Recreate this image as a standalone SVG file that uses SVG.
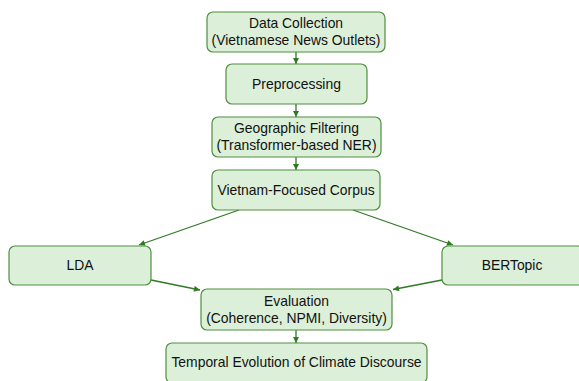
<svg xmlns="http://www.w3.org/2000/svg" width="579" height="381" viewBox="0 0 579 381">
<style>
.box{fill:#dcefd8;stroke:#4f8f3f;stroke-width:1.2}
.lbl{font-family:"Liberation Sans",Arial,Helvetica,sans-serif;font-size:13.9px;fill:#111;text-anchor:middle;dominant-baseline:central}
.edge{stroke:#2f7a24;stroke-width:1.3;fill:none;marker-end:url(#ah)}
</style>
<defs>
<marker id="ah" viewBox="0 0 10 10" refX="10" refY="5" markerWidth="7" markerHeight="6" markerUnits="userSpaceOnUse" orient="auto">
<path d="M0,0 L10,5 L0,10 z" fill="#2f7a24"/>
</marker>
</defs>
<rect width="579" height="381" fill="#ffffff"/>
<g id="connectors">
<line class="edge" x1="296" y1="52" x2="296" y2="64"/>
<line class="edge" x1="296" y1="104" x2="296" y2="117"/>
<line class="edge" x1="296" y1="157" x2="296" y2="170"/>
<line class="edge" x1="239" y1="210" x2="139" y2="245"/>
<line class="edge" x1="353" y1="210" x2="453" y2="245"/>
<line class="edge" x1="151" y1="280" x2="200" y2="290"/>
<line class="edge" x1="442" y1="280" x2="393" y2="289.5"/>
<line class="edge" x1="296" y1="330" x2="296" y2="343"/>
</g>
<g id="data-collection">
<rect class="box" x="207" y="12" width="178" height="40" rx="6"/>
<text class="lbl" x="296" y="23">Data Collection</text>
<text class="lbl" x="296" y="40">(Vietnamese News Outlets)</text>
</g>
<g id="preprocessing">
<rect class="box" x="226" y="64" width="141" height="40" rx="6"/>
<text class="lbl" x="296.5" y="83.5">Preprocessing</text>
</g>
<g id="geo-filtering">
<rect class="box" x="212" y="117" width="169" height="40" rx="6"/>
<text class="lbl" x="296.5" y="128">Geographic Filtering</text>
<text class="lbl" x="296.5" y="145">(Transformer-based NER)</text>
</g>
<g id="corpus">
<rect class="box" x="212" y="170" width="168" height="40" rx="6"/>
<text class="lbl" x="296" y="189.5">Vietnam-Focused Corpus</text>
</g>
<g id="lda">
<rect class="box" x="9" y="246" width="142" height="39" rx="6"/>
<text class="lbl" x="80" y="265">LDA</text>
</g>
<g id="bertopic">
<rect class="box" x="442" y="246" width="142" height="39" rx="6"/>
<text class="lbl" x="512" y="265">BERTopic</text>
</g>
<g id="evaluation">
<rect class="box" x="201" y="289" width="191" height="41" rx="6"/>
<text class="lbl" x="296.5" y="300.5">Evaluation</text>
<text class="lbl" x="296.5" y="317.5">(Coherence, NPMI, Diversity)</text>
</g>
<g id="temporal">
<rect class="box" x="166" y="343" width="261" height="40" rx="6"/>
<text class="lbl" x="296.5" y="361.5">Temporal Evolution of Climate Discourse</text>
</g>
</svg>
